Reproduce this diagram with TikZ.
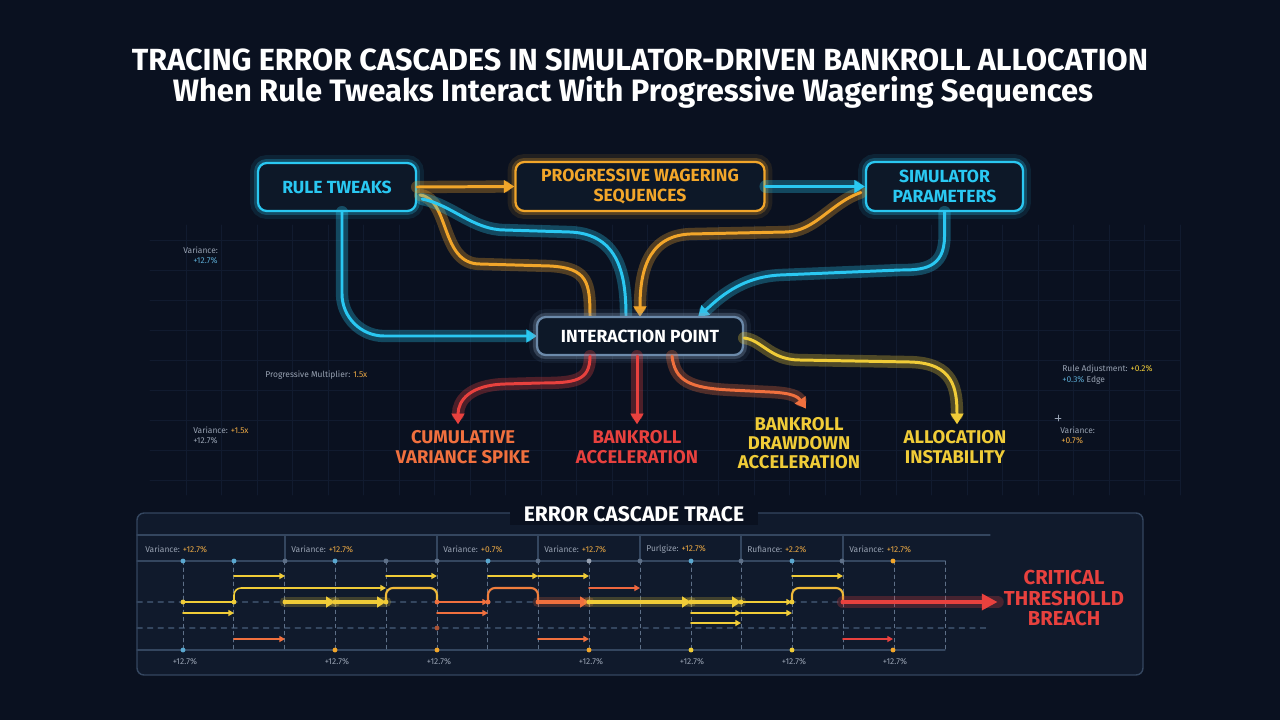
\documentclass[tikz,border=0pt]{standalone}
\usepackage{fontspec}
\setmainfont{Fira Sans}
\usetikzlibrary{arrows.meta,calc}

\definecolor{bg}{HTML}{0A1120}
\definecolor{boxbg}{HTML}{0D1828}
\definecolor{panelbg}{HTML}{101A2C}
\definecolor{panelline}{HTML}{34465F}
\definecolor{gridc}{HTML}{111B2F}
\definecolor{cyn}{HTML}{2AC8F2}
\definecolor{orn}{HTML}{F2A62A}
\definecolor{ylw}{HTML}{F0CC38}
\definecolor{red}{HTML}{E8413E}
\definecolor{ored}{HTML}{F0703E}
\definecolor{slate}{HTML}{6C8AAA}
\definecolor{note}{HTML}{98A2B2}
\definecolor{val}{HTML}{EAA844}
\definecolor{dotc}{HTML}{5AA8D0}
\definecolor{dotg}{HTML}{5E7088}

\tikzset{
  box/.style={draw=#1, line width=1.3pt, rounded corners=5pt, fill=boxbg,
    text=#1, align=center, inner sep=0pt,
    font=\bfseries\fontsize{10}{11.5}\selectfont,
    preaction={draw=#1, line width=9pt, draw opacity=.10},
    preaction={draw=#1, line width=4.5pt, draw opacity=.25}},
  wire/.style={draw=#1, line width=1.7pt,
    preaction={draw=#1, line width=7pt, draw opacity=.30}},
  outlbl/.style={text=#1, align=center, inner sep=0pt,
    font=\bfseries\fontsize{10.5}{11}\selectfont},
  small/.style={text=note, inner sep=0pt, font=\fontsize{4.8}{5.8}\selectfont},
  tr/.style={draw=#1, line width=0.9pt, -{Triangle[length=3.2pt,width=3.4pt]}},
  trfat/.style={draw=#1, line width=2.4pt, -{Triangle[length=5pt,width=6pt]},
    preaction={draw=#1, line width=6pt, draw opacity=.22, -}},
  dot/.style={fill=#1, circle, inner sep=0pt, minimum size=2.8pt},
}

\begin{document}
\begin{tikzpicture}[x=0.02cm,y=-0.02cm,>={Triangle[length=6pt,width=7pt]},line cap=round]
\fill[bg] (0,0) rectangle (1280,720);
\useasboundingbox (0,0) rectangle (1280,720);

% faint background grid
\foreach \gx in {186,221.5,...,1180} \draw[gridc,line width=0.4pt] (\gx,225) -- (\gx,495);
\foreach \gy in {240,270,...,480} \draw[gridc,line width=0.4pt] (150,\gy) -- (1180,\gy);

% title
\node[text=white,font=\bfseries\fontsize{17.4}{20}\selectfont] (title) at (640,60)
  {TRACING ERROR CASCADES IN SIMULATOR-DRIVEN BANKROLL ALLOCATION};
\node[text=white,font=\bfseries\fontsize{17.6}{20}\selectfont] (subtitle) at (633,92)
  {When Rule Tweaks Interact With Progressive Wagering Sequences};

% main nodes
\node[box=cyn, minimum width=3.16cm, minimum height=0.96cm] (rule) at (337,187) {RULE TWEAKS};
\node[box=orn, minimum width=4.98cm, minimum height=0.98cm] (prog) at (640,186.5) {PROGRESSIVE WAGERING\\SEQUENCES};
\node[box=cyn, minimum width=3.14cm, minimum height=0.98cm] (sim) at (944.5,186.5) {SIMULATOR\\PARAMETERS};

% connectors into the interaction point
\draw[wire=cyn,->,rounded corners=24pt] ($(rule.south)+(5,0)$) |- (537,336);
\draw[wire=orn] ($(rule.east)+(3,8)$) .. controls +(30,4) and +(-40,0) .. (480,264)
  -- (550,266) .. controls +(38,2) and +(0,-34) .. (590,317);
\draw[wire=cyn] ($(rule.east)+(5,12)$) .. controls +(30,6) and +(-32,0) .. (505,230)
  -- (570,232) .. controls +(50,2) and +(0,-40) .. (626,317);
\draw[wire=orn,->] ($(sim.west)+(-4,6)$) .. controls +(-30,10) and +(30,0) .. (785,232)
  -- (690,234) .. controls +(-45,2) and +(0,-40) .. (640,317);
\draw[wire=cyn,->] (sim.south) -- ($(sim.south)+(0,24)$) .. controls +(0,33) and +(22,0) .. (900,270)
  -- (780,275) .. controls +(-40,2) and +(20,-18) .. (698,317);
\draw[wire=orn,->] (rule.east) -- (prog.west);
\draw[wire=cyn,->] (prog.east) -- (sim.west);

\node[box=slate, text=white, minimum width=4.12cm, minimum height=0.76cm,
  preaction={draw=white, line width=5pt, draw opacity=.06}] (inter) at (640,336) {INTERACTION POINT};

% outcomes
\node[outlbl=ored] (cum) at (463,447) {CUMULATIVE\\VARIANCE SPIKE};
\node[outlbl=red] (acc) at (637,447) {BANKROLL\\ACCELERATION};
\node[outlbl=ylw] (drawdn) at (799,443) {BANKROLL\\DRAWDOWN\\ACCELERATION};
\node[outlbl=ylw] (alloc) at (955,447) {ALLOCATION\\INSTABILITY};

\draw[wire=red,->] ($(inter.south)+(-50,0)$) .. controls +(0,25) and +(35,0) .. (540,383)
  -- (505,384) .. controls +(-35,1) and +(0,-24) .. ($(cum.north)+(-5,-6)$);
\draw[wire=red,->] (inter.south -| acc.north) -- ($(acc.north)+(0,-6)$);
\draw[wire=ored,->] ($(inter.south)+(32,0)$) .. controls +(3,25) and +(-40,-2) .. (730,390)
  -- (770,392) .. controls +(22,1) and +(-8,-12) .. ($(drawdn.north)+(7,-8)$);
\draw[wire=ylw,->] ($(inter.east)+(0,2)$) .. controls +(18,2) and +(-30,0) .. (800,360)
  -- (910,362) .. controls +(44,1) and +(0,-35) .. ($(alloc.north)+(2,-6)$);

% side notes
\node[small,anchor=west] (n1) at (183,250) {Variance:};
\node[small,anchor=west,text=dotc] (n1v) at (193,261) {+12.7\%};
\node[small,anchor=west] (n2) at (265,375) {Progressive Multiplier: \textcolor{val}{1.5x}};
\node[small,anchor=west] (n3) at (193,430) {Variance: \textcolor{val}{+1.5x}};
\node[small,anchor=west] (n3v) at (193,441) {+12.7\%};
\node[small,anchor=west] (n4) at (1062,369) {Rule Adjustment: \textcolor{ylw}{+0.2\%}};
\node[small,anchor=west] (n4v) at (1062,380) {\textcolor{dotc}{+0.3\%} Edge};
\node[small,anchor=west] (n5) at (1060,430) {Variance:};
\node[small,anchor=west,text=val] (n5v) at (1061,441) {+0.7\%};
\draw[note,line width=0.4pt] (1055,418) -- (1061,418) (1058,415) -- (1058,421);

% trace panel
\draw[panelline,fill=panelbg,line width=0.8pt,rounded corners=4pt] (137,513) rectangle (1143,675);
\node[fill=bg,text=white,inner xsep=8pt,inner ysep=2pt,font=\bfseries\fontsize{12}{14}\selectfont]
  (trace) at (634,514) {ERROR CASCADE TRACE};
\draw[panelline,line width=0.6pt] (137,535) -- (990,535);
\draw[panelline,line width=0.6pt] (137,561) -- (945,561) (137,650) -- (945,650);
\draw[panelline,line width=0.6pt,dashed] (137,602) -- (990,602) (137,628) -- (990,628);
\foreach \hx in {285,437,538,640,741,843} \draw[panelline,line width=0.6pt] (\hx,535) -- (\hx,561);
\foreach \k in {0,...,15} \draw[dotg,line width=0.5pt,dash pattern=on 2pt off 2pt] (183+50.8*\k,561) -- (183+50.8*\k,650);

\node[small,anchor=west] (h1) at (145,549) {Variance: \textcolor{val}{+12.7\%}};
\node[small,anchor=west] (h2) at (291,549) {Variance: \textcolor{val}{+12.7\%}};
\node[small,anchor=west] (h3) at (443,549) {Variance: \textcolor{val}{+0.7\%}};
\node[small,anchor=west] (h4) at (544,549) {Variance: \textcolor{val}{+12.7\%}};
\node[small,anchor=west] (h5) at (646,549) {Purlgize: \textcolor{val}{+12.7\%}};
\node[small,anchor=west] (h6) at (747,549) {Rufiance: \textcolor{val}{+2.2\%}};
\node[small,anchor=west] (h7) at (849,549) {Variance: \textcolor{val}{+12.7\%}};

% trace arrows
\draw[ylw,line width=1.2pt] (183,602) -- (234,602);
\draw[tr=ylw] (183,613) -- (234,613);
\draw[tr=ylw] (234,576) -- (285,576);
\draw[tr=ored] (234,639) -- (285,639);
\draw[tr=ylw,rounded corners=4pt] (234,602) |- (386,588);
\draw[trfat=ylw] (285,602) -- (335,602);
\draw[trfat=ylw] (335,602) -- (386,602);
\draw[ylw!80!ored,line width=1.2pt,rounded corners=4pt] (386,602) |- (437,588) -- (437,602);
\draw[tr=ylw] (386,576) -- (437,576);
\draw[tr=ored] (437,602) -- (488,602);
\draw[tr=ored] (437,613) -- (488,613);
\draw[ored!85!ylw,line width=1.2pt,rounded corners=4pt] (488,602) |- (538,588) -- (538,602);
\draw[tr=ylw] (488,576) -- (538,576);
\draw[tr=ylw] (538,576) -- (589,576);
\draw[trfat=ored] (538,602) -- (589,602);
\draw[tr=ored] (538,639) -- (589,639);
\draw[tr=ored!80!red] (589,588) -- (640,588);
\draw[trfat=ylw] (589,602) -- (691,602);
\draw[trfat=ylw] (691,602) -- (741,602);
\draw[tr=ylw] (691,613) -- (741,613);
\draw[tr=ylw] (741,613) -- (792,613);
\draw[tr=ylw] (691,623) -- (741,623);
\draw[tr=ylw] (741,602) -- (792,602);
\draw[ylw!80!ored,line width=1.2pt,rounded corners=4pt] (792,602) |- (843,588) -- (843,602);
\draw[tr=ylw] (792,576) -- (843,576);
\draw[tr=red] (843,639) -- (893,639);

\node[outlbl=red, font=\bfseries\fontsize{11.5}{11.4}\selectfont] (crit) at (1064,598) {CRITICAL\\THRESHOLLD\\BREACH};
\draw[red,line width=2.6pt,-{Triangle[length=9pt,width=9pt]},
  preaction={draw=red, line width=7pt, draw opacity=.25, -}] (843,602) -- ($(crit.west)+(-6,4)$);

% dots on the trace
\node[dot=dotc] at (183,561) {}; \node[dot=dotc] at (234,561) {}; \node[dot=dotg] at (285,561) {};
\node[dot=dotc] at (335,561) {}; \node[dot=dotg] at (386,561) {}; \node[dot=dotg] at (437,561) {};
\node[dot=dotc] at (488,561) {}; \node[dot=dotg] at (538,561) {}; \node[dot=note] at (589,561) {};
\node[dot=dotg] at (640,561) {}; \node[dot=dotc] at (691,561) {}; \node[dot=dotg] at (741,561) {};
\node[dot=dotc] at (792,561) {}; \node[dot=dotg] at (842,561) {}; \node[dot=orn] at (893,561) {};
\node[dot=ylw] at (183,602) {}; \node[dot=ylw] at (234,602) {}; \node[dot=ylw] at (285,602) {};
\node[dot=ylw] at (335,602) {}; \node[dot=ylw] at (386,602) {}; \node[dot=ored] at (437,602) {};
\node[dot=ored] at (488,602) {}; \node[dot=ored] at (538,602) {}; \node[dot=ylw] at (589,602) {};
\node[dot=ylw] at (691,602) {}; \node[dot=ylw] at (741,602) {}; \node[dot=ylw] at (792,602) {};
\node[dot=red] at (843,602) {}; \node[dot=ored!70!bg] at (437,628) {};
\node[dot=dotc] at (183,650) {}; \node[dot=orn] at (335,650) {}; \node[dot=orn] at (437,650) {};
\node[dot=orn] at (589,650) {}; \node[dot=ylw] at (691,650) {}; \node[dot=ylw] at (792,650) {};
\node[dot=orn] at (893,650) {};

\node[small] (b1) at (185,662) {+12.7\%};
\node[small] (b2) at (337,662) {+12.7\%};
\node[small] (b3) at (439,662) {+12.7\%};
\node[small] (b4) at (591,662) {+12.7\%};
\node[small] (b5) at (692,662) {+12.7\%};
\node[small] (b6) at (794,662) {+12.7\%};
\node[small] (b7) at (895,662) {+12.7\%};
\end{tikzpicture}
\end{document}
